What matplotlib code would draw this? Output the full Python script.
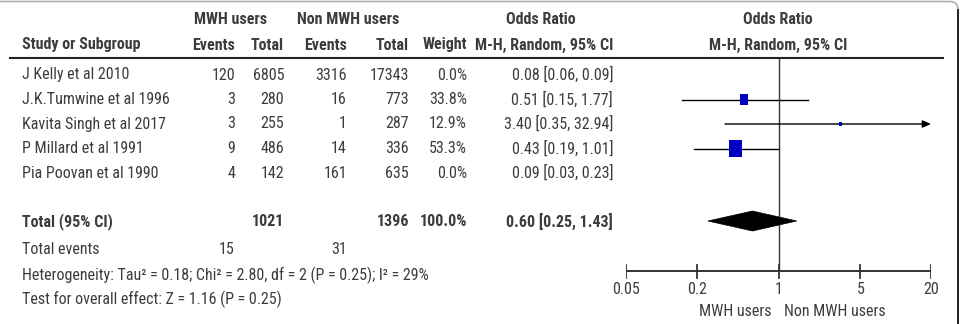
import matplotlib
matplotlib.use("Agg")
import matplotlib.pyplot as plt
from matplotlib import font_manager
from matplotlib.patches import Rectangle, Polygon, FancyBboxPatch
import numpy as np

# ---------------- data ----------------
studies = ["J Kelly et al 2010", "J.K.Tumwine et al 1996", "Kavita Singh et al 2017",
           "P Millard et al 1991", "Pia Poovan et al 1990"]
mwh_events = [120, 3, 3, 9, 4]
mwh_total = [6805, 280, 255, 486, 142]
non_events = [3316, 16, 1, 14, 161]
non_total = [17343, 773, 287, 336, 635]
weights = [0.0, 33.8, 12.9, 53.3, 0.0]
or_est = [0.08, 0.51, 3.40, 0.43, 0.09]
ci_lo = [0.06, 0.15, 0.35, 0.19, 0.03]
ci_hi = [0.09, 1.77, 32.94, 1.01, 0.23]

total_mwh = 1021
total_non = 1396
total_weight = "100.0%"
pooled_or, pooled_lo, pooled_hi = 0.60, 0.25, 1.43
total_events_mwh = 15
total_events_non = 31
heterogeneity = "Heterogeneity: Tau\u00b2 = 0.18; Chi\u00b2 = 2.80, df = 2 (P = 0.25); I\u00b2 = 29%"
overall = "Test for overall effect: Z = 1.16 (P = 0.25)"
ticks = [0.05, 0.2, 1, 5, 20]
tick_labels = ["0.05", "0.2", "1", "5", "20"]
xlim = (0.05, 20)

# ---------------- fonts ----------------
names = {f.name for f in font_manager.fontManager.ttflist}
FAM = "Liberation Sans"
for cand in ["Liberation Sans Narrow", "Arial Narrow", "Roboto Condensed",
             "PT Sans Narrow", "Archivo Narrow", "Barlow Semi Condensed"]:
    if cand in names:
        FAM = cand
        break
plt.rcParams["font.family"] = [FAM, "DejaVu Sans"]
TXT = "#3c3c3c"
FS = 11.5

W, H = 961, 324
fig = plt.figure(figsize=(W / 100, H / 100), dpi=100)
ax = fig.add_axes([0, 0, 1, 1])
ax.set_xlim(0, W)
ax.set_ylim(H, 0)
ax.axis("off")

# forest axes (log scale) placed at pixels 626..931
fx0, fx1 = 626, 931
axf = fig.add_axes([fx0 / W, 0, (fx1 - fx0) / W, 1])
axf.set_xscale("log")
axf.set_xlim(*xlim)
axf.set_ylim(H, 0)
axf.axis("off")
axf.patch.set_alpha(0)

# border
box = FancyBboxPatch((-30, 1.5), 988, 360, boxstyle="round,pad=0,rounding_size=8",
                     fc="none", ec="#b0b0b0", lw=1.2, transform=ax.transData, clip_on=False)
ax.add_patch(box)
ax.plot([958, 958], [10, H], color="#222222", lw=1.4)

def t(x, y, s, ha="left", bold=False, **kw):
    ax.text(x, y, s, ha=ha, va="center", fontsize=FS, color=TXT,
            fontweight="bold" if bold else "normal", **kw)

# headers
hy1, hy2 = 20, 45
t(231, hy1, "MWH users", ha="center", bold=True)
t(348, hy1, "Non MWH users", ha="center", bold=True)
t(541, hy1, "Odds Ratio", ha="center", bold=True)
t(22, hy2, "Study or Subgroup", bold=True)
t(235, hy2, "Events", ha="right", bold=True)
t(284, hy2, "Total", ha="right", bold=True)
t(347, hy2, "Events", ha="right", bold=True)
t(409, hy2, "Total", ha="right", bold=True)
t(467, hy2, "Weight", ha="right", bold=True)
t(613, hy2, "M-H, Random, 95% CI", ha="right", bold=True)
t(778, hy1, "Odds Ratio", ha="center", bold=True)
t(778, hy2, "M-H, Random, 95% CI", ha="center", bold=True)
ax.plot([10, 943], [58, 58], color="#222222", lw=1.5)

# rows
row_y = [75 + 24.5 * i for i in range(len(studies))]
for i, y in enumerate(row_y):
    t(22, y, studies[i])
    t(235, y, str(mwh_events[i]), ha="right")
    t(284, y, str(mwh_total[i]), ha="right")
    t(347, y, str(non_events[i]), ha="right")
    t(409, y, str(non_total[i]), ha="right")
    t(467, y, f"{weights[i]:.1f}%", ha="right")
    t(613, y, f"{or_est[i]:.2f} [{ci_lo[i]:.2f}, {ci_hi[i]:.2f}]", ha="right")

# forest marks
px_per_dec = (fx1 - fx0) / (np.log10(xlim[1]) - np.log10(xlim[0]))
for i, y in enumerate(row_y):
    if weights[i] <= 0:
        continue
    lo, hi = ci_lo[i], ci_hi[i]
    if hi > xlim[1]:
        axf.annotate("", xy=(xlim[1], y), xytext=(lo, y),
                     arrowprops=dict(arrowstyle="-|>,head_length=0.5,head_width=0.22",
                                     color="black", lw=1.0, shrinkA=0, shrinkB=0),
                     annotation_clip=False)
    else:
        axf.plot([lo, hi], [y, y], color="black", lw=1.0)
    side_w = 0.245 * weights[i]
    side_h = side_w * 1.3
    hw = side_w / 2 / px_per_dec
    xa, xb = or_est[i] / 10 ** hw, or_est[i] * 10 ** hw
    axf.add_patch(Rectangle((xa, y - side_h / 2), xb - xa, side_h,
                            fc="#0000c0", ec="none", zorder=3))

# total row
ty = 222
t(22, ty, "Total (95% CI)", bold=True)
t(284, ty, str(total_mwh), ha="right", bold=True)
t(409, ty, str(total_non), ha="right", bold=True)
t(467, ty, total_weight, ha="right", bold=True)
t(613, ty, f"{pooled_or:.2f} [{pooled_lo:.2f}, {pooled_hi:.2f}]", ha="right", bold=True)
axf.add_patch(Polygon([(pooled_lo, ty - 1), (pooled_or, ty - 11), (pooled_hi, ty - 1),
                       (pooled_or, ty + 9)], closed=True, fc="black", ec="black", lw=0.5,
                      zorder=3))

t(22, 250, "Total events")
t(235, 250, str(total_events_mwh), ha="right")
t(347, 250, str(total_events_non), ha="right")
t(22, 275, heterogeneity)
t(22, 299, overall)

# reference line and axis
axf.plot([1, 1], [58, 271], color="#333333", lw=1.0)
axy = 271
axf.plot(xlim, [axy, axy], color="#333333", lw=1.4)
for tk, tl in zip(ticks, tick_labels):
    axf.plot([tk, tk], [265, 278], color="#333333", lw=1.3)
    axf.text(tk, 289, tl, ha="center", va="center", fontsize=FS, color=TXT)
t(735, 312, "MWH users", ha="center")
t(835, 312, "Non MWH users", ha="center")

fig.savefig("out.png", dpi=100)
